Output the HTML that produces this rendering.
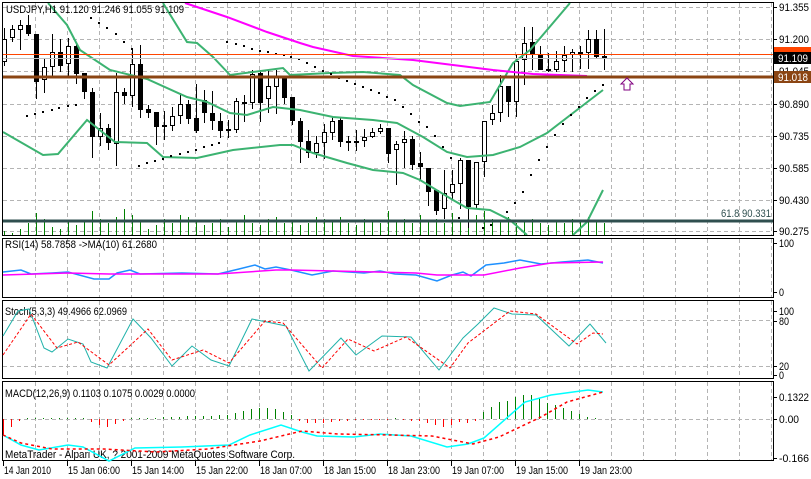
<!DOCTYPE html>
<html><head><meta charset="utf-8"><style>
html,body{margin:0;padding:0;background:#fff;}
svg{display:block;font-family:"Liberation Sans",sans-serif;font-size:11px;}
</style></head><body>
<svg id="s" width="811" height="479" xmlns="http://www.w3.org/2000/svg">
<rect width="811" height="479" fill="#fff"/>
<g id="grid" stroke="#b4b4b4" stroke-dasharray="4,3" stroke-width="1"></g>
<g id="main"></g>
<line x1="3" y1="54.5" x2="773" y2="54.5" stroke="#ff4500" stroke-width="1"/>
<line x1="3" y1="58.5" x2="773" y2="58.5" stroke="#c0c0c0" stroke-width="1"/>
<line x1="3" y1="77" x2="773" y2="77" stroke="#8b4513" stroke-width="3"/>
<line x1="3" y1="221" x2="773" y2="221" stroke="#2f4f4f" stroke-width="3"/>
<text x="771" y="217" text-anchor="end" fill="#2f4f4f" textLength="50" lengthAdjust="spacingAndGlyphs">61.8 90.331</text>
<path d="M624 90 L630 90 L630 84 L633 84 L627 78 L621 84 L624 84 Z" fill="none" stroke="#800080" stroke-width="1"/>
<text x="6" y="13" fill="#000" textLength="178" lengthAdjust="spacingAndGlyphs">USDJPY,H1  91.120 91.246 91.055 91.109</text>
<g fill="none" stroke="#000" stroke-width="1">
<rect x="2.5" y="2.5" width="771" height="233"/>
<line x1="2" y1="238.5" x2="774" y2="238.5"/>
<rect x="2.5" y="238.5" width="771" height="59"/>
<rect x="2.5" y="300.5" width="771" height="78"/>
<rect x="2.5" y="381.5" width="771" height="79"/>
</g>
<g fill="#000" id="axis"></g>
<rect x="774" y="47" width="37" height="9" fill="#ff4500"/>
<rect x="774" y="52" width="37" height="12" fill="#000"/>
<text x="778" y="62" fill="#fff" textLength="30" lengthAdjust="spacingAndGlyphs">91.109</text>
<rect x="774" y="71" width="37" height="12" fill="#8b4513"/>
<text x="778" y="81" fill="#fff" textLength="30" lengthAdjust="spacingAndGlyphs">91.018</text>
<text x="5" y="248" textLength="152" lengthAdjust="spacingAndGlyphs">RSI(14) 58.7858  -&gt;MA(10) 61.2680</text>
<text x="5" y="315" textLength="122" lengthAdjust="spacingAndGlyphs">Stoch(5,3,3) 49.4966 62.0969</text>
<text x="5" y="397" textLength="190" lengthAdjust="spacingAndGlyphs">MACD(12,26,9) 0.1103 0.1075 0.0029 0.0000</text>
<text x="5" y="458" textLength="290" lengthAdjust="spacingAndGlyphs">MetaTrader - Alpari UK, ? 2001-2009 MetaQuotes Software Corp.</text>
</svg>
<script>
var NS="http://www.w3.org/2000/svg",S=document.getElementById('s');
function el(p,n,a,t){var e=document.createElementNS(NS,n);for(var k in a)e.setAttribute(k,a[k]);if(t!=null)e.textContent=t;(typeof p=='string'?document.getElementById(p):p).appendChild(e);return e;}
var G=document.getElementById('grid');
for(var x=35;x<773;x+=32){[[3,235],[239,297],[301,378],[382,460]].forEach(function(r){el(G,'line',{x1:x+.5,y1:r[0],x2:x+.5,y2:r[1]});});}
[7,39,71,104,136,168,200,231].forEach(function(y){el(G,'line',{x1:3,y1:y+.5,x2:773,y2:y+.5});});
[320,366].forEach(function(y){el(G,'line',{x1:3,y1:y+.5,x2:773,y2:y+.5});});
el(G,'line',{x1:3,y1:419.5,x2:773,y2:419.5});
var A=document.getElementById('axis');
[["91.355",7],["91.200",39],["91.045",71],["90.890",104],["90.735",136],["90.585",168],["90.430",200],["90.275",231],
["100",243],["0",292],["100",311],["80",321],["20",366],["0",375],["0.1322",397],["0.00",419],["-0.166",458]].forEach(function(l){
 el(A,'line',{x1:773,y1:l[1]+.5,x2:777,y2:l[1]+.5,stroke:'#000'});
 el(A,'text',{x:779,y:l[1]+4,textLength:l[0].length*5,lengthAdjust:'spacingAndGlyphs'},l[0]);});
var dates=["14 Jan 2010","15 Jan 06:00","15 Jan 14:00","15 Jan 22:00","18 Jan 07:00","18 Jan 15:00","18 Jan 23:00","19 Jan 07:00","19 Jan 15:00","19 Jan 23:00"];
dates.forEach(function(d,i){var x=3+64*i;el(S,'line',{x1:x+.5,y1:461,x2:x+.5,y2:466,stroke:'#000'});el(S,'text',{x:x+1,y:474,textLength:i==0?47:52,lengthAdjust:'spacingAndGlyphs'},d);});
var M=document.getElementById('main');
for(var i=0;i<76;i++){var x=4+8*i;var h=[4,2,6,12,22,16,8,6,14,10,14,24,16,12,18,26,20,14,6,10,16,12,20,18,14,10,12,16,8,14,20,12,10,16,18,12,14,10,12,18,16,14,18,12,10,16,14,12,24,14,16,12,20,14,16,12,22,14,18,20,24,16,14,18,12,14,16,12,10,14,12,16,14,18,14,12][i];
el(M,'line',{x1:x+.5,y1:235,x2:x+.5,y2:235-h,stroke:'#008000'});}
var C=[[62,39,28,66],[38,29,25,42],[30,25,20,50],[25,34,15,36],[34,82,34,99],[80,67,58,93],[67,52,34,77],[52,66,39,72],[64,46,38,77],[46,74,42,84],
[73,92,73,99],[92,137,88,158],[137,128,113,146],[128,143,124,150],[144,92,73,166],[92,96,88,104],[96,64,48,107],[64,110,45,118],[109,113,105,118],[112,127,112,145],
[125,125,111,140],[126,116,107,131],[116,104,93,124],[104,119,100,124],[118,131,84,133],[100,113,90,123],[113,121,91,130],[121,131,113,138],[129,129,120,138],[130,101,98,133],
[102,104,95,122],[103,74,70,109],[73,103,70,122],[99,86,70,113],[87,76,70,114],[77,98,77,104],[97,121,97,125],[121,142,118,163],[141,153,130,158],[153,143,136,158],
[143,132,124,159],[133,121,116,140],[120,142,118,147],[141,143,136,151],[143,141,130,151],[141,137,129,147],[137,132,128,138],[132,128,124,134],[128,154,128,163],[150,144,141,185],
[143,139,131,168],[139,165,136,170],[163,167,152,180],[168,192,168,206],[190,211,190,215],[209,193,170,219],[193,184,170,200],[184,160,158,209],[160,207,160,228],[205,162,162,208],
[162,121,121,177],[120,113,105,125],[113,86,75,122],[86,102,86,117],[102,61,55,117],[60,43,27,85],[42,54,27,70],[54,70,46,70],[69,70,53,72],[70,61,51,72],
[61,55,46,72],[55,52,49,72],[52,54,46,69],[53,39,30,69],[39,57,30,59],[56,59,29,70]];
C.forEach(function(c,i){var x=4+8*i;var t=Math.min(c[0],c[1]),b=Math.max(c[0],c[1]);
 el(M,'line',{x1:x+.5,y1:Math.max(c[2],3),x2:x+.5,y2:c[3],stroke:'#000'});
 if(b-t<1.5){el(M,'rect',{x:x-2,y:t,width:5,height:2,fill:'#000'});}
 else if(c[1]<c[0])el(M,'rect',{x:x-2+.5,y:t+.5,width:4,height:b-t-1,fill:'#fff',stroke:'#000'});
 else el(M,'rect',{x:x-2,y:t,width:5,height:b-t,fill:'#000'});});
function pl(g,pts,col,w,dash){var a={points:pts.map(function(p){return p.join(',')}).join(' '),fill:'none',stroke:col,'stroke-width':w||1};if(dash)a['stroke-dasharray']=dash;el(g,'polyline',a);}
var grn='#3cb371';
pl(M,[[163,3],[187,42],[197,43],[213,57],[230,75],[253,72],[283,68],[290,75],[330,73],[363,72],[400,75],[413,85],[447,103],[460,106],[490,102],[513,63],[530,50],[570,3]],grn,2);
pl(M,[[48,3],[67,25],[80,50],[110,70],[147,79],[187,97],[207,102],[230,113],[247,115],[273,107],[300,110],[333,117],[373,120],[397,123],[423,137],[447,152],[467,157],[493,155],[520,147],[547,133],[573,113],[603,90]],grn,2);
pl(M,[[3,132],[43,155],[58,154],[87,120],[115,142],[147,143],[163,157],[197,158],[233,150],[280,145],[293,145],[313,153],[347,163],[373,170],[403,173],[420,180],[453,200],[467,208],[490,210],[510,220],[527,235]],grn,2);
pl(M,[[573,235],[587,222],[603,190]],grn,2);
pl(M,[[185,3],[227,17],[267,32],[300,43],[313,47],[353,56],[413,60],[453,65],[493,70],[533,74],[587,76]],'#ff00ff',2);
var sar=[[27,116],[35,114],[43,112],[52,110],[59,108],[68,106],[76,105],[91,18],[99,23],[107,28],[116,34],[124,42],[132,49],[139,166],[147,163],[155,161],[163,159],[171,156],[180,154],[188,152],[196,150],[204,147],[212,145],[219,143],[227,42],[236,44],[244,46],[252,49],[260,51],[268,52],[276,54],[284,55],[291,57],[299,59],[307,63],[315,67],[323,71],[331,74],[339,78],[347,81],[355,84],[363,87],[371,90],[379,93],[387,97],[395,100],[403,107],[411,114],[419,122],[427,127],[435,136],[443,147],[451,158],[459,218],[483,228],[491,225],[507,212],[515,203],[523,192],[531,175],[539,160],[547,147],[555,135],[563,124],[571,115],[579,107],[587,98],[595,91],[603,85]];
sar.forEach(function(p){el(M,'rect',{x:p[0]-1,y:p[1]-1,width:2,height:2,fill:'#000'});});
pl(S,[[3,272],[21,270],[31,274],[52,273],[68,272],[94,279],[109,279],[117,273],[130,270],[140,274],[182,273],[218,274],[239,269],[255,265],[265,269],[276,267],[291,270],[312,275],[333,271],[364,273],[380,271],[395,274],[416,275],[437,281],[452,275],[463,272],[471,276],[486,265],[504,263],[520,260],[541,264],[562,262],[588,260],[603,263]],'#1e90ff',1.5);
pl(S,[[3,275],[68,273],[109,274],[218,274],[276,270],[291,270],[416,273],[437,275],[484,275],[520,268],[551,263],[603,262]],'#ff00ff',1.5);
pl(S,[[3,336],[18,311],[29,309],[44,348],[52,352],[68,339],[83,344],[91,362],[107,368],[133,319],[151,338],[172,366],[192,346],[211,360],[229,366],[252,319],[286,326],[309,371],[341,338],[356,355],[382,336],[411,337],[439,370],[463,338],[478,324],[494,308],[512,314],[536,315],[569,346],[590,324],[606,343]],'#20b2aa',1);
pl(S,[[3,355],[31,314],[57,348],[78,342],[109,365],[148,329],[172,360],[203,350],[229,363],[265,321],[283,323],[322,368],[348,339],[374,351],[406,337],[450,368],[468,343],[510,311],[536,314],[577,344],[593,333],[603,334]],'#ff0000',1,'3,2');
var hist=[[3,16],[11,8],[19,2],[27,-1],[35,-1],[43,-1],[51,-1],[59,-1],[67,-1],[75,-1],[83,-1],[91,3],[99,6],[107,8],[115,5],[123,2],[131,-1],[139,-1],[147,-1],[155,-1],[163,-2],[171,-2],[179,-2],[187,-3],[195,-3],[203,-3],[211,-3],[219,-4],[227,-4],[235,-6],[243,-8],[251,-10],[259,-11],[267,-11],[275,-10],[283,-7],[291,-4],[299,2],[307,4],[315,4],[323,4],[331,3],[339,2],[347,2],[355,1],[363,1],[371,1],[379,1],[387,1],[395,-1],[403,1],[411,2],[419,2],[427,4],[435,6],[443,8],[451,6],[459,3],[467,4],[475,2],[483,-7],[491,-12],[499,-17],[507,-18],[515,-22],[523,-24],[531,-24],[539,-21],[547,-16],[555,-14],[563,-11],[571,-8],[579,-5],[587,-2],[595,-1]];
hist.forEach(function(h){if(h[1]==0)return;el(S,'line',{x1:h[0]+.5,y1:419,x2:h[0]+.5,y2:419+h[1],stroke:h[1]>0?'#ff0000':'#008000'});});
pl(S,[[3,435],[21,445],[39,450],[68,445],[83,447],[109,461],[135,448],[182,447],[229,445],[250,435],[281,425],[302,432],[317,436],[354,437],[380,434],[411,436],[447,447],[468,444],[484,438],[525,402],[551,395],[588,390],[603,392]],'#00ffff',1.5);
pl(S,[[3,435],[21,443],[52,449],[104,449],[156,452],[208,449],[234,445],[260,441],[302,431],[338,434],[390,435],[432,436],[473,444],[499,437],[541,417],[567,402],[603,392]],'#ff0000',1.5,'3,3');
</script>
</body></html>
